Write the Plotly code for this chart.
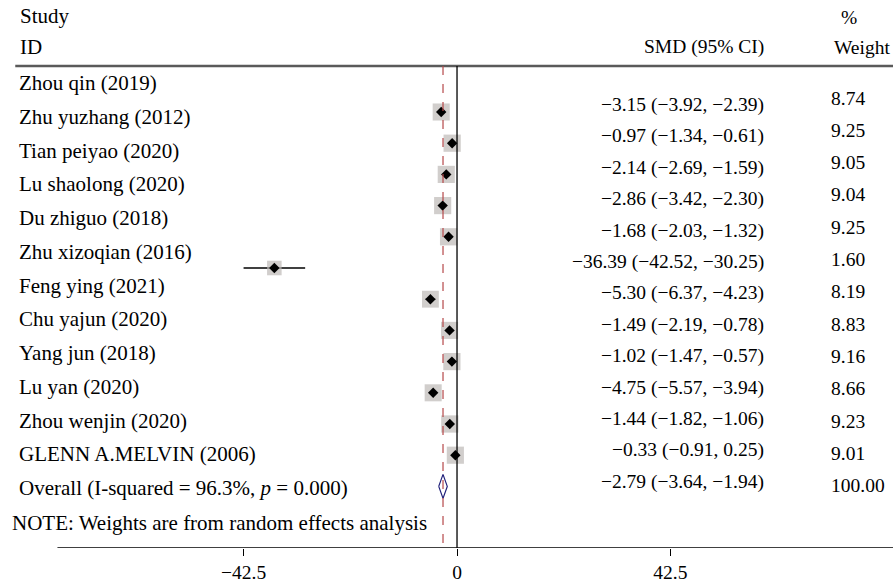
import plotly.graph_objects as go

studies = ["Zhou qin (2019)", "Zhu yuzhang (2012)", "Tian peiyao (2020)", "Lu shaolong (2020)",
           "Du zhiguo (2018)", "Zhu xizoqian (2016)", "Feng ying (2021)", "Chu yajun (2020)",
           "Yang jun (2018)", "Lu yan (2020)", "Zhou wenjin (2020)", "GLENN A.MELVIN (2006)"]
smd = [-3.15, -0.97, -2.14, -2.86, -1.68, -36.39, -5.30, -1.49, -1.02, -4.75, -1.44, -0.33]
lo = [-3.92, -1.34, -2.69, -3.42, -2.03, -42.52, -6.37, -2.19, -1.47, -5.57, -1.82, -0.91]
hi = [-2.39, -0.61, -1.59, -2.30, -1.32, -30.25, -4.23, -0.78, -0.57, -3.94, -1.06, 0.25]
weight = [8.74, 9.25, 9.05, 9.04, 9.25, 1.60, 8.19, 8.83, 9.16, 8.66, 9.23, 9.01]
overall = (-2.79, -3.64, -1.94)
overall_label = "Overall (I-squared = 96.3%, <i>p</i> = 0.000)"
ticks = [-42.5, 0, 42.5]

FONT = "Liberation Serif"
FS = 19.5
n = len(studies)
mark_y = [112 + 31.2 * i for i in range(n + 1)]
label_y = [83 + 33.75 * i for i in range(n + 1)]
val_y = [105 + 31.4 * i for i in range(n + 1)]
wt_y = [98 + 32.3 * i for i in range(n + 1)]
X0, XR = -91.04, 86.85  # data x at left/right edge

fig = go.Figure()
# CI lines
for i in range(n):
    fig.add_trace(go.Scatter(x=[lo[i], hi[i]], y=[mark_y[i]] * 2, mode="lines",
                             line=dict(color="black", width=1.3), hoverinfo="skip"))
# weight squares
fig.add_trace(go.Scatter(x=smd, y=mark_y[:n], mode="markers",
                         marker=dict(symbol="square", size=[14 + 0.35 * w for w in weight],
                                     color="#bdb9b7", line=dict(width=0))))
fig.add_trace(go.Scatter(x=smd, y=mark_y[:n], mode="markers",
                         marker=dict(symbol="diamond", size=8, color="black")))
# overall diamond
oy = mark_y[n]
fig.add_trace(go.Scatter(x=[overall[1], overall[0], overall[2], overall[0], overall[1]],
                         y=[oy, oy - 12, oy, oy + 12, oy], mode="lines",
                         line=dict(color="#1f1f7a", width=1.2)))
# header rule
fig.add_trace(go.Scatter(x=[-88.0, XR], y=[66, 66], mode="lines",
                         line=dict(color="#5a5a5a", width=2.5), hoverinfo="skip"))

shapes = [
    dict(type="line", xref="x", yref="y", x0=0, x1=0, y0=66, y1=548, line=dict(color="black", width=1.3)),
    dict(type="line", xref="x", yref="y", x0=overall[0], x1=overall[0], y0=66, y1=548,
         line=dict(color="#b5484a", width=1.2, dash="dash")),
    dict(type="line", xref="x", yref="y", x0=-79.6, x1=XR, y0=548, y1=548, line=dict(color="black", width=1.3)),
]

ann = []
def txt(x, y, s, anchor="left", size=FS):
    ann.append(dict(x=x, y=y, xref="x", yref="y", text=s, showarrow=False, xanchor=anchor,
                    yanchor="middle", font=dict(family=FONT, size=size, color="black")))

px = lambda p: X0 + p / 5.02
txt(px(18), 16, "Study", size=21)
txt(px(18), 47, "ID", size=21)
txt(px(766), 47, "SMD (95% CI)", "right")
txt(px(849), 17, "%", "center")
txt(px(892), 47, "Weight", "right")
for i in range(n):
    txt(px(17), label_y[i], studies[i], size=21)
    txt(px(766), val_y[i], f"{smd[i]:.2f} ({lo[i]:.2f}, {hi[i]:.2f})".replace("-", "\u2212"), "right")
    txt(px(829), wt_y[i], f"{weight[i]:.2f}")
txt(px(17), label_y[n], overall_label, size=21)
txt(px(766), val_y[n], f"{overall[0]:.2f} ({overall[1]:.2f}, {overall[2]:.2f})".replace("-", "\u2212"), "right")
txt(px(829), wt_y[n], "100.00")
txt(px(10), 523, "NOTE: Weights are from random effects analysis", size=21)

fig.update_layout(
    width=893, height=586, margin=dict(l=0, r=0, t=0, b=38),
    plot_bgcolor="white", paper_bgcolor="white", showlegend=False,
    shapes=shapes, annotations=ann,
    xaxis=dict(range=[X0, XR], tickvals=ticks, ticktext=["\u221242.5", "0", "42.5"],
               ticks="outside", ticklen=7, tickcolor="black", showgrid=False, zeroline=False,
               showline=False, tickfont=dict(family=FONT, size=FS, color="black")),
    yaxis=dict(range=[548, 0], visible=False, showgrid=False, zeroline=False),
)
fig.write_html("out.html", config={"displayModeBar": False})

# drop the default page margin so the figure fits the window exactly
with open("out.html") as f:
    page = f.read()
page = page.replace("<body>", '<body style="margin:0;overflow:hidden">', 1)
with open("out.html", "w") as f:
    f.write(page)
